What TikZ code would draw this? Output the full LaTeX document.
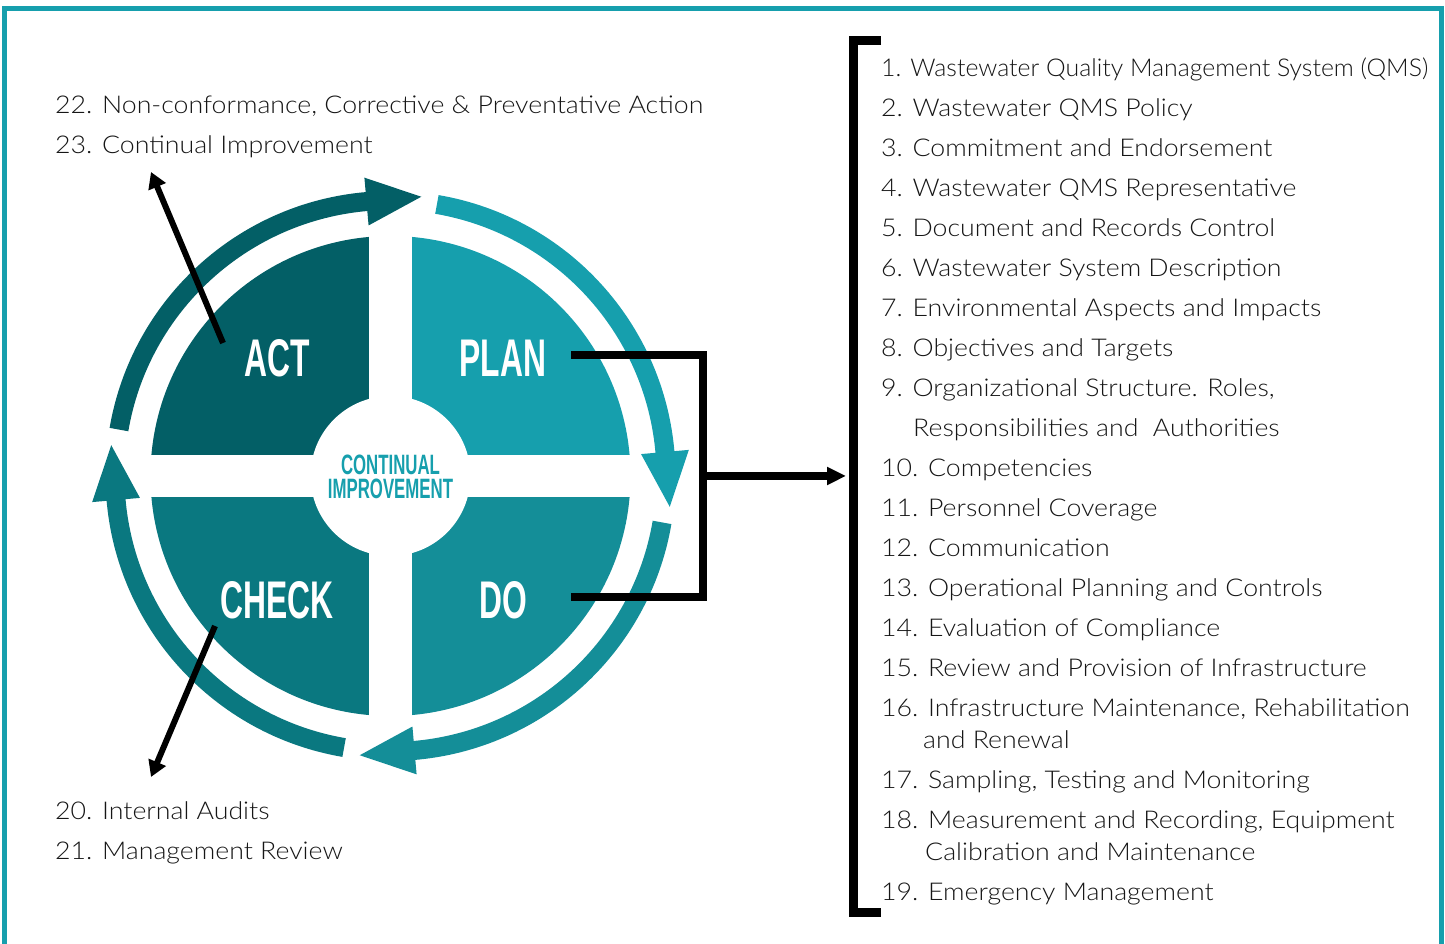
\documentclass[tikz,border=0pt]{standalone}
\usepackage{fontspec}
\setmainfont{Lato Light}[FakeStretch=1.09]
\newfontfamily\phasefont{Liberation Sans}
\usetikzlibrary{arrows.meta, calc}

\definecolor{actc}{RGB}{3,95,102}
\definecolor{planc}{RGB}{22,159,173}
\definecolor{checkc}{RGB}{10,120,128}
\definecolor{doc}{RGB}{20,142,152}
\definecolor{inkc}{RGB}{22,22,22}

\newcommand{\squeeze}[1]{\scalebox{0.6}[1]{#1}}

\tikzset{
  phase/.style={inner sep=0pt, text=white, font=\phasefont\bfseries\fontsize{53}{53}\selectfont},
  core/.style={inner sep=0pt, text=planc, align=center, font=\phasefont\bfseries\fontsize{28}{24}\selectfont},
  item/.style={anchor=base west, inner sep=0pt, text=inkc, font=\fontsize{24.5}{28}\selectfont},
  ptr/.style={line width=6pt, -{Triangle[length=16pt,width=18pt]}},
  brk/.style={line width=8.5pt}
}

\begin{document}
\begin{tikzpicture}[x=1pt,y=1pt]
\useasboundingbox (0,0) rectangle (1445,944);
% frame
\draw [planc, line width=5pt] (4.7,-10) -- (4.7,935.5) -- (1441,935.5) -- (1441,-10);

% PDCA wheel
\coordinate (c) at (390.5,468);
\foreach \a/\col in {90/actc, 0/planc, -90/doc, 180/checkc} {
\fill [\col] (c) -- ++(\a:240) arc[start angle=\a, delta angle=90, radius=240] -- cycle;
}
\fill [white] (369,220) rectangle (412,716);
\fill [white] (140,447) rectangle (641,489);
\fill [white] (c) circle[radius=80];

% ring of arrows
\foreach \q/\col in {90/actc, 0/planc, -90/doc, 180/checkc} {
\draw [\col, line width=19pt] ($(c)+(\q+80.3:275.5)$) arc[start angle=\q+80.3, end angle=\q+4.6, radius=275.5];
\fill [\col] ($(c)+(\q+5:299.5)$) -- ($(c)+(\q+5:251.5)$) -- ($(c)+(\q+5:275.5)+(\q-85:55)$) -- cycle;
}

\node [phase] (act) at (277,586) {\squeeze{ACT}};
\node [phase] (plan) at (503,586) {\squeeze{PLAN}};
\node [phase] (check) at (277,344) {\squeeze{CHECK}};
\node [phase] (do) at (503,344) {\squeeze{DO}};
\node [core] (core) at (390.5,467) {\squeeze{CONTINUAL}\\\squeeze{IMPROVEMENT}};

% left lists
\node [item] (nc) at (55,830.5) {22. Non-conformance, Corrective \& Preventative Action};
\node [item] (ci) at (55,790.5) {23. Continual Improvement};
\node [item] (ia) at (55,124.5) {20. Internal Audits};
\node [item] (mr) at (55,84.5) {21. Management Review};

\coordinate (acttail) at (223,601);
\coordinate (acthead) at (151,772);
\coordinate (checktail) at (215,318);
\coordinate (checkhead) at (151,167);
\draw [ptr] (acttail) -- (acthead);
\draw [ptr] (checktail) -- (checkhead);

% plan/do bracket
\coordinate (pl) at (571,589);
\coordinate (dl) at (571,347);
\coordinate (mid) at (703,468);
\coordinate (hit) at (846,468);
\draw [brk] (pl) -| (mid) |- (dl);
\draw [brk, -{Triangle[length=19pt,width=17pt]}] (mid) -- (hit);

% right list
\draw [line width=9pt] (881,903) -- (853,903) -- (853,31) -- (881,31);
\foreach \x/\y/\t [count=\i] in {
881/867.5/{\scalebox{0.93}[1]{1. Wastewater Quality Management System (QMS)}},
881/827.5/{2. Wastewater QMS Policy},
881/787.5/{3. Commitment and Endorsement},
881/747.5/{4. Wastewater QMS Representative},
881/707.5/{5. Document and Records Control},
881/667.5/{6. Wastewater System Description},
881/627.5/{7. Environmental Aspects and Impacts},
881/587.5/{8. Objectives and Targets},
881/547.5/{9. Organizational Structure. Roles,},
913/507.5/{Responsibilities and~ Authorities},
881/467.5/{10. Competencies},
881/427.5/{11. Personnel Coverage},
881/387.5/{12. Communication},
881/347.5/{13. Operational Planning and Controls},
881/307.5/{14. Evaluation of Compliance},
881/267.5/{15. Review and Provision of Infrastructure},
881/227.5/{16. Infrastructure Maintenance, Rehabilitation},
923/195.5/{and Renewal},
881/155.5/{17. Sampling, Testing and Monitoring},
881/115.5/{18. Measurement and Recording, Equipment},
925/83.5/{Calibration and Maintenance},
881/43.5/{19. Emergency Management}} {
\node [item] (line\i) at (\x,\y) {\t};
}
\end{tikzpicture}
\end{document}
